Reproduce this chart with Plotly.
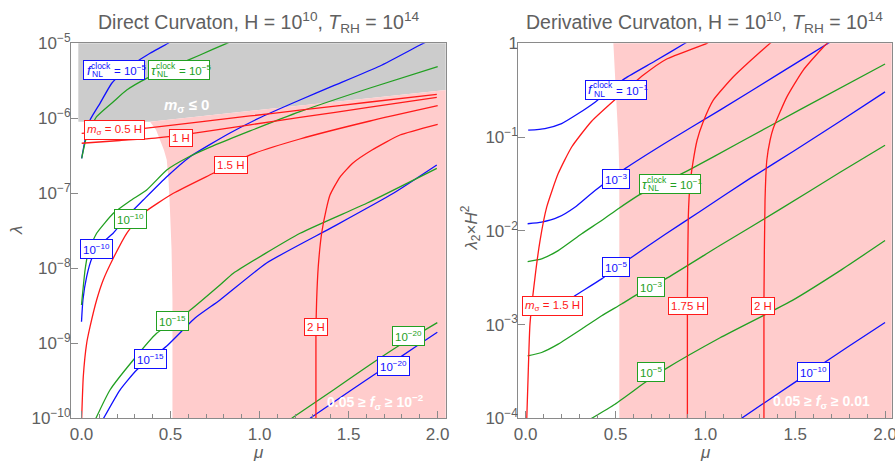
import numpy as np
import plotly.graph_objects as go

FONT = "Liberation Sans, Arial, sans-serif"
BLUE = "#1010FF"
GREEN = "#22A022"
RED = "#FF1A1A"
PINK = "rgb(255,204,204)"
GRAY = "rgb(204,204,204)"
AXC = "#8a8a8a"
TXT = "#606060"

# ================= Left panel: Direct curvaton (x = mu, y = log10 lambda) =================
# shaded regions
d_gray_mu = [-0.018, 0.385, 2.1, 2.1, -0.018]
d_gray_lg = [-6.045, -6.045, -5.609, -4.9, -4.9]
d_pink_mu = [0.385, 0.419, 0.441, 0.463, 0.479, 0.489, 0.497, 0.506, 0.511, 0.511, 2.1, 2.1]
d_pink_lg = [-6.045, -6.156, -6.289, -6.423, -6.556, -6.823, -7.223, -7.756, -8.423, -10.1, -10.1, -5.609]

# f_NL^clock contours (blue)
d_fnl5_mu = [0.001, 0.020, 0.048, 0.104, 0.170, 0.244, 0.385, 0.486, 0.525]
d_fnl5_lg = [-6.533, -6.289, -6.023, -5.8, -5.533, -5.356, -5.133, -5.0, -4.929]
d_fnl10_mu = [0.0, 0.008, 0.029, 0.059, 0.104, 0.179, 0.254, 0.347, 0.479, 0.610, 0.834, 1.014, 1.227, 1.413, 1.677, 1.902, 1.958]
d_fnl10_lg = [-8.712, -8.423, -8.112, -7.863, -7.689, -7.529, -7.312, -7.089, -6.779, -6.512, -6.196, -5.979, -5.756, -5.569, -5.303, -5.023, -4.956]
d_fnl15_mu = [0.124, 0.216, 0.310, 0.479, 0.638, 0.778, 1.040, 1.415, 1.752, 1.996]
d_fnl15_lg = [-10.0, -9.623, -9.356, -9.036, -8.663, -8.423, -7.929, -7.445, -7.0, -6.623]
d_fnl20_mu = [1.284, 1.508, 1.696, 1.883, 1.999]
d_fnl20_lg = [-10.0, -9.636, -9.336, -9.036, -8.853]

# tau_NL^clock contours (green)
d_tnl5_mu = [0.001, 0.029, 0.085, 0.179, 0.254, 0.366, 0.525, 0.666, 0.816, 0.89]
d_tnl5_lg = [-6.533, -6.245, -5.979, -5.779, -5.623, -5.467, -5.301, -5.156, -5.0, -4.93]
d_tnl10_mu = [0.0, 0.020, 0.038, 0.085, 0.179, 0.272, 0.366, 0.479, 0.591, 0.739, 0.947, 1.227, 1.621, 2.001]
d_tnl10_lg = [-8.489, -8.023, -7.783, -7.533, -7.267, -7.103, -6.956, -6.689, -6.529, -6.369, -6.169, -5.912, -5.596, -5.312]
d_tnl15_mu = [0.081, 0.160, 0.291, 0.422, 0.600, 0.778, 0.853, 1.228, 1.602, 1.996]
d_tnl15_lg = [-10.0, -9.623, -9.223, -8.867, -8.579, -8.223, -8.067, -7.533, -7.133, -6.667]
d_tnl20_mu = [1.181, 1.415, 1.602, 1.789, 1.999]
d_tnl20_lg = [-10.0, -9.623, -9.316, -9.023, -8.725]

# m_sigma contours (red)
d_m05_mu = [0.001, 0.104, 0.216, 0.353, 0.666, 0.947, 1.227, 1.621, 1.996]
d_m05_lg = [-6.2, -6.18, -6.16, -6.133, -6.047, -5.969, -5.892, -5.783, -5.68]
d_m1_mu = [0.001, 0.216, 0.394, 0.625, 0.947, 1.227, 1.621, 1.996]
d_m1_lg = [-6.333, -6.296, -6.267, -6.2, -6.087, -5.989, -5.852, -5.72]
d_m15_mu = [0.001, 0.010, 0.029, 0.048, 0.085, 0.122, 0.179, 0.254, 0.347, 0.516, 0.740, 0.947, 1.227, 1.621, 2.001]
d_m15_lg = [-10.0, -9.445, -9.0, -8.779, -8.423, -8.156, -7.863, -7.533, -7.267, -7.0, -6.733, -6.489, -6.276, -6.036, -5.832]
d_m2_mu = [1.317, 1.317, 1.321, 1.330, 1.349, 1.374, 1.396, 1.452, 1.525, 1.632, 1.789, 2.001]
d_m2_lg = [-10.0, -8.823, -8.423, -7.979, -7.533, -7.223, -7.023, -6.783, -6.596, -6.423, -6.223, -6.08]

# ================= Right panel: Derivative curvaton (x = mu, y = log10 lambda2*H^2) =================
r_pink_mu = [0.488, 0.498, 0.507, 0.516, 0.521, 0.521, 2.1, 2.1, 0.488]
r_pink_lg = [0.0, -0.321, -0.678, -1.034, -1.355, -4.1, -4.1, 0.1, 0.1]

r_fnl1_mu = [0.014, 0.107, 0.200, 0.293, 0.386, 0.469, 0.553, 0.720, 0.887, 0.926]
r_fnl1_lg = [-0.927, -0.909, -0.856, -0.749, -0.628, -0.499, -0.374, -0.189, 0.0, 0.046]
r_fnl3_mu = [0.011, 0.089, 0.181, 0.274, 0.386, 0.553, 0.775, 1.081, 1.415, 1.684, 1.722]
r_fnl3_lg = [-1.925, -1.908, -1.855, -1.748, -1.569, -1.337, -1.066, -0.713, -0.318, 0.0, 0.046]
r_fnl5_mu = [0.014, 0.107, 0.191, 0.274, 0.423, 0.590, 0.775, 0.970, 1.249, 1.499, 1.750, 2.000]
r_fnl5_lg = [-2.895, -2.863, -2.799, -2.692, -2.513, -2.282, -2.040, -1.794, -1.441, -1.141, -0.831, -0.518]
r_fnl10_mu = [1.193, 1.393, 1.594, 1.794, 2.000]
r_fnl10_lg = [-4.011, -3.751, -3.494, -3.237, -2.978]

r_tnl1_mu = [0.011, 0.089, 0.181, 0.312, 0.423, 0.515, 0.627, 0.905, 1.193, 1.527, 2.000]
r_tnl1_lg = [-2.328, -2.299, -2.211, -2.032, -1.890, -1.765, -1.622, -1.355, -1.056, -0.708, -0.221]
r_tnl3_mu = [0.011, 0.089, 0.181, 0.312, 0.423, 0.534, 0.636, 0.779, 1.081, 1.415, 1.750, 2.000]
r_tnl3_lg = [-3.334, -3.298, -3.209, -3.048, -2.906, -2.781, -2.660, -2.513, -2.157, -1.772, -1.376, -1.088]
r_tnl5_mu = [0.358, 0.497, 0.664, 0.779, 1.082, 1.482, 1.750, 2.000]
r_tnl5_lg = [-4.011, -3.850, -3.619, -3.473, -3.141, -2.745, -2.425, -2.104]

r_m15_mu = [0.006, 0.014, 0.024, 0.052, 0.080, 0.117, 0.181, 0.256, 0.367, 0.525, 0.655, 0.785, 1.008, 1.037]
r_m15_lg = [-4.011, -3.529, -2.995, -2.496, -2.104, -1.748, -1.390, -1.106, -0.831, -0.553, -0.339, -0.168, 0.0, 0.035]
r_m175_mu = [0.900, 0.900, 0.905, 0.915, 0.931, 0.954, 0.987, 1.044, 1.156, 1.249, 1.360, 1.382]
r_m175_lg = [-4.011, -2.745, -1.855, -1.497, -1.270, -1.034, -0.842, -0.606, -0.357, -0.189, 0.0, 0.035]
r_m2_mu = [1.326, 1.326, 1.332, 1.342, 1.360, 1.378, 1.453, 1.545, 1.657, 1.677, 1.694]
r_m2_lg = [-4.011, -2.745, -1.676, -1.248, -1.034, -0.906, -0.574, -0.286, -0.040, 0.0, 0.035]

# axis ticks
x_tickvals = [0.0, 0.5, 1.0, 1.5, 2.0]
x_ticktext = ["0.0", "0.5", "1.0", "1.5", "2.0"]
d_yexp = [-10, -9, -8, -7, -6, -5]
r_yexp = [-4, -3, -2, -1, 0]

fig = go.Figure()


def region(mu, lg, color, xa, ya):
    fig.add_trace(go.Scatter(x=mu, y=10 ** np.array(lg, dtype=float), mode="lines", fill="toself",
                             fillcolor=color, line=dict(width=0, color=color), hoverinfo="skip",
                             showlegend=False, xaxis=xa, yaxis=ya))


def curve(mu, lg, color, xa, ya):
    fig.add_trace(go.Scatter(x=mu, y=10 ** np.array(lg, dtype=float), mode="lines",
                             line=dict(width=1.3, color=color, shape="spline", smoothing=0.5),
                             hoverinfo="skip", showlegend=False, xaxis=xa, yaxis=ya))


region(d_gray_mu, d_gray_lg, GRAY, "x", "y")
region(d_pink_mu, d_pink_lg, PINK, "x", "y")
region(r_pink_mu, r_pink_lg, PINK, "x2", "y2")

for mu, lg, c in [(d_fnl5_mu, d_fnl5_lg, BLUE), (d_fnl10_mu, d_fnl10_lg, BLUE),
                  (d_fnl15_mu, d_fnl15_lg, BLUE), (d_fnl20_mu, d_fnl20_lg, BLUE),
                  (d_tnl5_mu, d_tnl5_lg, GREEN), (d_tnl10_mu, d_tnl10_lg, GREEN),
                  (d_tnl15_mu, d_tnl15_lg, GREEN), (d_tnl20_mu, d_tnl20_lg, GREEN),
                  (d_m05_mu, d_m05_lg, RED), (d_m1_mu, d_m1_lg, RED),
                  (d_m15_mu, d_m15_lg, RED), (d_m2_mu, d_m2_lg, RED)]:
    curve(mu, lg, c, "x", "y")

for mu, lg, c in [(r_fnl1_mu, r_fnl1_lg, BLUE), (r_fnl3_mu, r_fnl3_lg, BLUE),
                  (r_fnl5_mu, r_fnl5_lg, BLUE), (r_fnl10_mu, r_fnl10_lg, BLUE),
                  (r_tnl1_mu, r_tnl1_lg, GREEN), (r_tnl3_mu, r_tnl3_lg, GREEN),
                  (r_tnl5_mu, r_tnl5_lg, GREEN),
                  (r_m15_mu, r_m15_lg, RED), (r_m175_mu, r_m175_lg, RED), (r_m2_mu, r_m2_lg, RED)]:
    curve(mu, lg, c, "x2", "y2")

ann = []


def box(xr, yr, x, y, text, color, size=11.5):
    ann.append(dict(x=x, y=y, xref=xr, yref=yr, text=text, showarrow=False,
                    xanchor="center", yanchor="middle",
                    font=dict(color=color, size=size, family=FONT), bgcolor="white",
                    bordercolor=color, borderwidth=1, borderpad=2))


def stacked(xr, yr, x, y, sym, value, color, w=62, h=20):
    # empty framed box, then the pieces of f_NL^clock / tau_NL^clock stacked by hand
    ann.append(dict(x=x, y=y, xref=xr, yref=yr, text="", width=w - 2, height=h - 2, showarrow=False,
                    xanchor="center", yanchor="middle",
                    bgcolor="white", bordercolor=color, borderwidth=1, borderpad=0))
    common = dict(x=x, y=y, xref=xr, yref=yr, showarrow=False, xanchor="center", yanchor="middle")
    ann.append(dict(common, text="<i>%s</i>" % sym, xshift=-w / 2 + 6, yshift=0,
                    font=dict(color=color, size=13, family=FONT)))
    ann.append(dict(common, text="clock", xshift=-w / 2 + 18, yshift=4.5,
                    font=dict(color=color, size=8.5, family=FONT)))
    ann.append(dict(common, text="NL", xshift=-w / 2 + 14.5, yshift=-4,
                    font=dict(color=color, size=8.5, family=FONT)))
    ann.append(dict(common, text="= 10<sup>%s</sup>" % value, xshift=w / 2 - 15, yshift=0,
                    font=dict(color=color, size=11.5, family=FONT)))


def text(xr, yr, x, y, t, size, color, angle=0):
    ann.append(dict(x=x, y=y, xref=xr, yref=yr, text=t, showarrow=False, textangle=angle,
                    xanchor="center", yanchor="middle", font=dict(color=color, size=size, family=FONT)))


# left labels
stacked("x", "y", 0.185, -5.356, "f", "−5", BLUE)
stacked("x", "y", 0.548, -5.356, "τ", "−5", GREEN)
box("x", "y", 0.187, -6.152, "<i>m</i><sub>σ</sub> = 0.5 H", RED)
box("x", "y", 0.561, -6.256, "1 H", RED)
box("x", "y", 0.840, -6.616, "1.5 H", RED)
box("x", "y", 0.277, -7.349, "10<sup>−10</sup>", GREEN)
box("x", "y", 0.085, -7.740, "10<sup>−10</sup>", BLUE)
box("x", "y", 0.510, -8.703, "10<sup>−15</sup>", GREEN)
box("x", "y", 0.389, -9.205, "10<sup>−15</sup>", BLUE)
box("x", "y", 1.319, -8.789, "2 H", RED)
box("x", "y", 1.838, -8.903, "10<sup>−20</sup>", GREEN)
box("x", "y", 1.750, -9.299, "10<sup>−20</sup>", BLUE)
text("x", "y", 0.590, -5.823, "<b><i>m</i><sub>σ</sub> ≤ 0</b>", 15, "white")
text("x", "y", 1.649, -9.789, "<b>0.05 ≥ <i>f</i><sub>σ</sub> ≥ 10<sup>−2</sup></b>", 14, "white")

# right labels
stacked("x2", "y2", 0.500, -0.494, "f", "−1", BLUE)
box("x2", "y2", 0.500, -1.444, "10<sup>−3</sup>", BLUE)
stacked("x2", "y2", 0.802, -1.502, "τ", "−1", GREEN)
box("x2", "y2", 0.500, -2.389, "10<sup>−5</sup>", BLUE)
box("x2", "y2", 0.700, -2.603, "10<sup>−3</sup>", GREEN)
box("x2", "y2", 0.149, -2.804, "<i>m</i><sub>σ</sub> = 1.5 H", RED)
box("x2", "y2", 0.901, -2.804, "1.75 H", RED)
box("x2", "y2", 1.323, -2.804, "2 H", RED)
box("x2", "y2", 0.700, -3.505, "10<sup>−5</sup>", GREEN)
box("x2", "y2", 1.601, -3.505, "10<sup>−10</sup>", BLUE)
text("x2", "y2", 1.648, -3.831, "<b>0.05 ≥ <i>f</i><sub>σ</sub> ≥ 0.01</b>", 14, "white")

# titles and axis labels
text("paper", "paper", 0.2887, 0.952,
     "Direct Curvaton, H = 10<sup>10</sup>, <i>T</i><sub>RH</sub> = 10<sup>14</sup>", 19.5, TXT)
text("paper", "paper", 0.7877, 0.952,
     "Derivative Curvaton, H = 10<sup>10</sup>, <i>T</i><sub>RH</sub> = 10<sup>14</sup>", 19.5, TXT)
text("paper", "paper", 16 / 895, 1 - 230 / 461, "<i>λ</i>", 17, TXT, -90)
text("paper", "paper", 470.5 / 895, 1 - 228 / 461, "<i>λ</i><sub>2</sub>×<i>H</i><sup>2</sup>", 17, TXT, -90)
text("paper", "paper", 258 / 895, 1 - 452 / 461, "<i>μ</i>", 17, TXT)
text("paper", "paper", 705 / 895, 1 - 452 / 461, "<i>μ</i>", 17, TXT)

xcommon = dict(tickvals=x_tickvals, ticktext=x_ticktext, ticks="inside", ticklen=7, tickcolor=AXC,
               showline=True, linecolor=AXC, linewidth=1, mirror=True, showgrid=False, zeroline=False,
               automargin=False, ticklabeloverflow="allow",
               tickfont=dict(size=17, color=TXT, family=FONT),
               minor=dict(ticks="inside", ticklen=4, tickcolor=AXC, tick0=0, dtick=0.1, showgrid=False))
ycommon = dict(type="log", ticks="inside", ticklen=7, tickcolor=AXC, showline=True, linecolor=AXC,
               linewidth=1, mirror=True, showgrid=False, zeroline=False, automargin=False,
               ticklabeloverflow="allow", ticklabelstandoff=-4,
               tickfont=dict(size=17, color=TXT, family=FONT))

YDOM = [1 - 418.3 / 461, 1 - 43.3 / 461]
fig.update_layout(
    width=895, height=461, margin=dict(l=0, r=0, t=0, b=0, autoexpand=False),
    paper_bgcolor="white", plot_bgcolor="white", showlegend=False,
    xaxis=dict(xcommon, domain=[71 / 895, 445.7 / 895], range=[-0.059, 2.046], anchor="y"),
    yaxis=dict(ycommon, domain=YDOM, range=[-10, -5], anchor="x",
               tickvals=[10.0 ** e for e in d_yexp],
               ticktext=["10<sup>−%d</sup>" % (-e) for e in d_yexp]),
    xaxis2=dict(xcommon, domain=[518.3 / 895, 891.7 / 895], range=[-0.041, 2.037], anchor="y2"),
    yaxis2=dict(ycommon, domain=YDOM, range=[-4, 0], anchor="x2",
                tickvals=[10.0 ** e for e in r_yexp],
                ticktext=["1" if e == 0 else "10<sup>−%d</sup>" % (-e) for e in r_yexp]),
    annotations=ann,
)

fig.write_html("out.html", config={"displayModeBar": False},
               post_script="document.body.style.margin='0';document.body.style.padding='0';"
                           "document.body.style.overflow='hidden';")
